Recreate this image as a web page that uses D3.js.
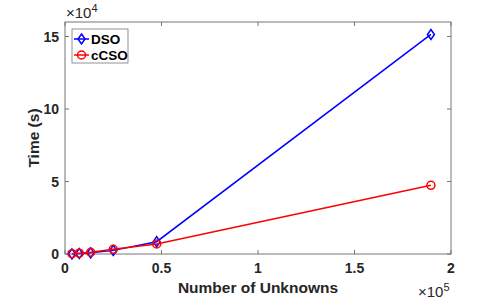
<!DOCTYPE html>
<html>
<head>
<meta charset="utf-8">
<script src="https://cdn.jsdelivr.net/npm/d3@7"></script>
<style>
  body { margin: 0; background: #fff; }
  text { font-family: "Liberation Sans", Arial, sans-serif; }
</style>
</head>
<body>
<svg id="chart" width="498" height="299"></svg>
<script>
// data
const unknowns = [3600, 7400, 13300, 25000, 47500, 189600];
const dsoTime = [100, 300, 800, 2500, 8500, 151400];
const ccsoTime = [200, 600, 1200, 3200, 6900, 47400];
const xTicks = [0, 0.5e5, 1e5, 1.5e5, 2e5];
const xTickLabels = ['0', '0.5', '1', '1.5', '2'];
const yTicks = [0, 5e4, 10e4, 15e4];
const yTickLabels = ['0', '5', '10', '15'];

const margin = { left: 65, top: 22, right: 47, bottom: 45 };
const width = 498, height = 299;
const svg = d3.select('#chart');

const x = d3.scaleLinear().domain([0, 2e5]).range([margin.left, width - margin.right]);
const y = d3.scaleLinear().domain([0, 16e4]).range([height - margin.bottom, margin.top]);

const axisColor = '#777';
const tick = 4;

// box
svg.append('rect')
    .attr('x', x(0)).attr('y', y(16e4))
    .attr('width', x(2e5) - x(0)).attr('height', y(0) - y(16e4))
    .attr('fill', 'none').attr('stroke', axisColor).attr('stroke-width', 1);

// inward ticks on all sides
xTicks.forEach(t => {
    svg.append('line').attr('x1', x(t)).attr('x2', x(t))
        .attr('y1', y(0)).attr('y2', y(0) - tick).attr('stroke', axisColor);
    svg.append('line').attr('x1', x(t)).attr('x2', x(t))
        .attr('y1', y(16e4)).attr('y2', y(16e4) + tick).attr('stroke', axisColor);
});
yTicks.forEach(t => {
    svg.append('line').attr('x1', x(0)).attr('x2', x(0) + tick)
        .attr('y1', y(t)).attr('y2', y(t)).attr('stroke', axisColor);
    svg.append('line').attr('x1', x(2e5)).attr('x2', x(2e5) - tick)
        .attr('y1', y(t)).attr('y2', y(t)).attr('stroke', axisColor);
});

// tick labels
svg.selectAll('.xl').data(xTicks).enter().append('text')
    .attr('x', d => x(d)).attr('y', y(0) + 19)
    .attr('text-anchor', 'middle').attr('font-size', 14).attr('font-weight', 'bold')
    .attr('fill', '#262626')
    .text((d, i) => xTickLabels[i]);
svg.selectAll('.yl').data(yTicks).enter().append('text')
    .attr('x', x(0) - 6).attr('y', d => y(d) + 5)
    .attr('text-anchor', 'end').attr('font-size', 14).attr('font-weight', 'bold')
    .attr('fill', '#262626')
    .text((d, i) => yTickLabels[i]);

// exponent labels
const e4 = svg.append('text').attr('x', x(0) + 1).attr('y', 18).attr('font-size', 15).attr('fill', '#262626');
e4.append('tspan').text('\u00d710');
e4.append('tspan').attr('font-size', 11).attr('dy', -6).text('4');
const e5 = svg.append('text').attr('x', x(2e5) - 33).attr('y', 297).attr('font-size', 15).attr('fill', '#262626');
e5.append('tspan').text('\u00d710');
e5.append('tspan').attr('font-size', 11).attr('dy', -6).text('5');

// axis titles
svg.append('text').attr('x', (x(0) + x(2e5)) / 2).attr('y', 293)
    .attr('text-anchor', 'middle').attr('font-size', 15.5).attr('font-weight', 'bold')
    .attr('fill', '#262626').text('Number of Unknowns');
svg.append('text')
    .attr('transform', `translate(39,${(y(0) + y(16e4)) / 2}) rotate(-90)`)
    .attr('text-anchor', 'middle').attr('font-size', 15.5).attr('font-weight', 'bold')
    .attr('fill', '#262626').text('Time (s)');

// series
const line = d3.line().x(d => x(d[0])).y(d => y(d[1]));
const series = [
    { name: 'DSO', color: '#0000ff', vals: dsoTime, marker: 'diamond' },
    { name: 'cCSO', color: '#ff0000', vals: ccsoTime, marker: 'circle' }
];
const diamond = (cx, cy, r) => `M${cx},${cy - r}L${cx + r * 0.7},${cy}L${cx},${cy + r}L${cx - r * 0.7},${cy}Z`;

function drawMarker(g, kind, cx, cy, color) {
    if (kind === 'diamond') {
        g.append('path').attr('d', diamond(cx, cy, 5))
            .attr('fill', 'none').attr('stroke', color).attr('stroke-width', 1.5);
    } else {
        g.append('circle').attr('cx', cx).attr('cy', cy).attr('r', 4)
            .attr('fill', 'none').attr('stroke', color).attr('stroke-width', 1.5);
    }
}

series.forEach(s => {
    const pts = unknowns.map((u, i) => [u, s.vals[i]]);
    const g = svg.append('g');
    g.append('path').datum(pts).attr('d', line)
        .attr('fill', 'none').attr('stroke', s.color).attr('stroke-width', 1.5);
    pts.forEach(p => drawMarker(g, s.marker, x(p[0]), y(p[1]), s.color));
});

// legend
const lg = svg.append('g');
lg.append('rect').attr('x', 72).attr('y', 29).attr('width', 56).attr('height', 34)
    .attr('fill', '#fff').attr('stroke', axisColor).attr('stroke-width', 0.8);
series.forEach((s, i) => {
    const ly = 39 + i * 16;
    lg.append('line').attr('x1', 74).attr('x2', 89).attr('y1', ly).attr('y2', ly)
        .attr('stroke', s.color).attr('stroke-width', 1.5);
    drawMarker(lg, s.marker, 81.5, ly, s.color);
    lg.append('text').attr('x', 91).attr('y', ly + 5)
        .attr('font-size', 13.5).attr('font-weight', 'bold').attr('fill', '#000').text(s.name);
});
</script>
</body>
</html>
